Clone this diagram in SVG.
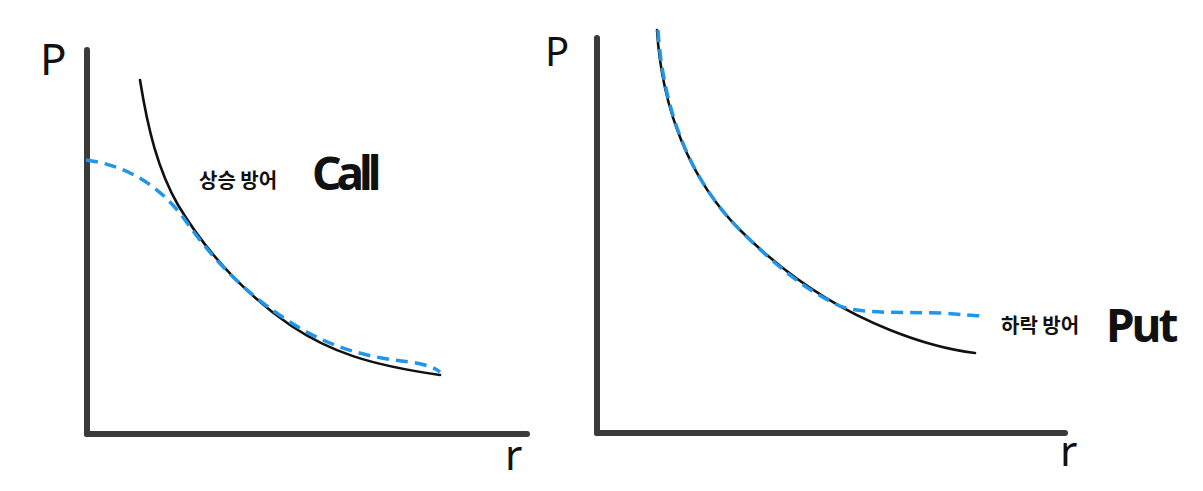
<svg xmlns="http://www.w3.org/2000/svg" width="1203" height="491" viewBox="0 0 1203 491">
<style>
.axis{stroke:#3a3a3a;stroke-width:6;stroke-linecap:round;fill:none}
.curve{stroke:#111;stroke-width:2.6;fill:none;stroke-linecap:round}
.dash{stroke:#2196e8;stroke-width:3.5;fill:none;stroke-dasharray:12 7}
.lbl{font-family:"Noto Sans CJK KR","Noto Sans",sans-serif;fill:#111}
.hand{font-family:"Noto Sans","DejaVu Sans",sans-serif;fill:#111}
</style>
<rect width="1203" height="491" fill="#fff"/>
<g id="left-chart">
<line class="axis" x1="87" y1="50" x2="87" y2="434"/>
<line class="axis" x1="87" y1="434" x2="527" y2="434"/>
<text class="hand" x="40" y="75" font-size="44">P</text>
<text class="hand" x="505" y="470" font-size="42">r</text>
<text class="lbl" x="199" y="188" font-size="20" font-weight="bold">상승 방어</text>
<text class="hand" x="312" y="190" font-size="46" font-weight="bold" letter-spacing="-5">Call</text>
</g>
<g id="right-chart">
<line class="axis" x1="597" y1="38" x2="597" y2="433"/>
<line class="axis" x1="597" y1="433" x2="1065" y2="433"/>
<text class="hand" x="545" y="66" font-size="40">P</text>
<text class="hand" x="1060" y="466" font-size="42">r</text>
<text class="lbl" x="1001" y="333" font-size="20" font-weight="bold">하락 방어</text>
<text class="hand" x="1106" y="342" font-size="46" font-weight="bold" letter-spacing="-3">Put</text>
</g>
<g id="connectors">
<path class="curve" d="M140,80 C148,130 158,170 178,205 C205,250 240,290 290,325 C330,352 370,365 440,375"/>
<path class="dash" d="M86,160 C125,165 160,185 185,220 C210,255 240,290 290,322 C330,348 370,358 410,362 C425,364 435,368 440,372"/>
<path class="curve" d="M657,30 C662,110 690,180 740,230 C790,280 840,310 890,330 C920,342 950,350 975,353"/>
<path class="dash" d="M658,30 C663,110 690,180 740,230 C775,265 805,290 840,306 C860,314 900,312 940,313 C960,314 975,316 985,316"/>
</g>
</svg>
